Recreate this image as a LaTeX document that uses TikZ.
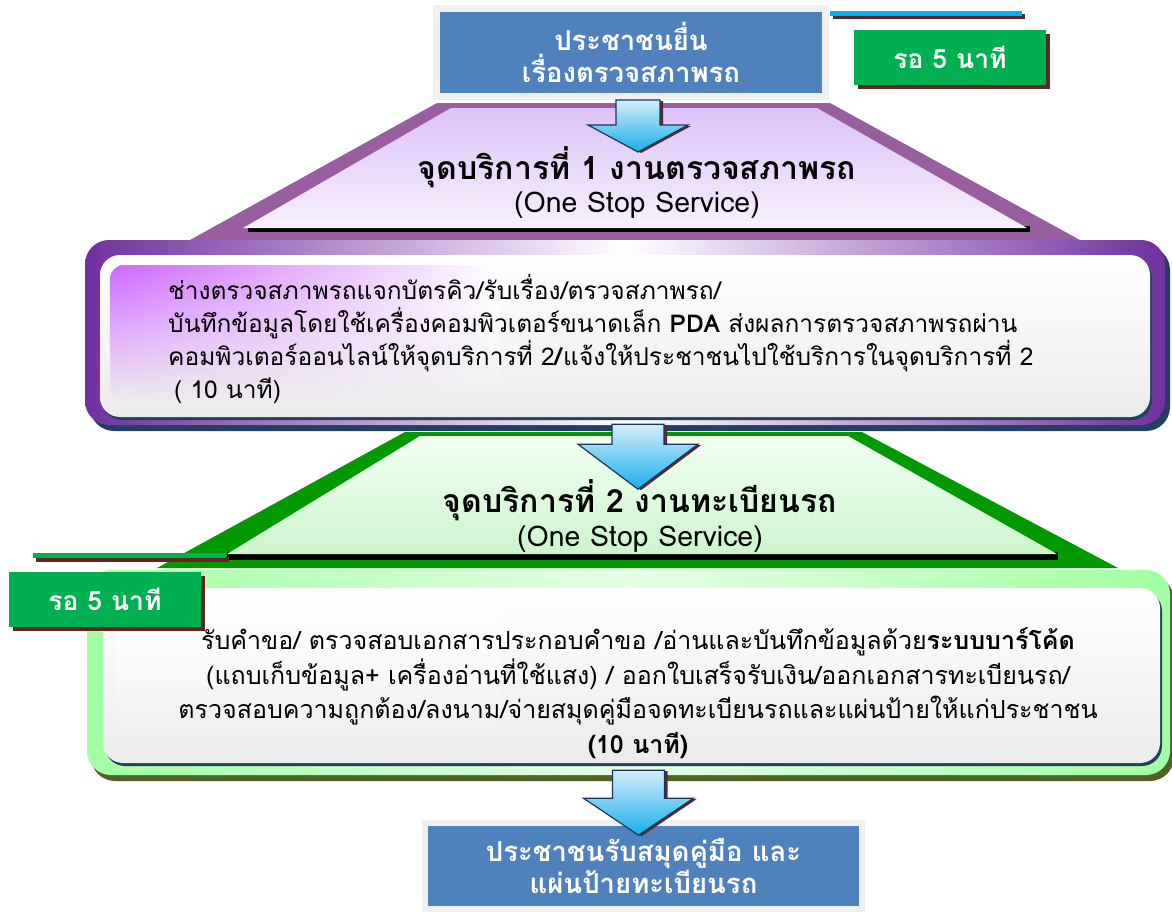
\documentclass[tikz,border=0pt]{standalone}
\usepackage{fontspec}
\setmainfont[Script=Thai]{Loma}
\usetikzlibrary{positioning, calc, fadings, shadows}

\definecolor{boxblue}{HTML}{4F81BD}
\definecolor{framegray}{HTML}{F0F0F0}
\definecolor{navyshade}{HTML}{243F60}
\definecolor{waitgreen}{HTML}{00B050}
\definecolor{rustshade}{HTML}{632423}
\definecolor{cyanline}{HTML}{00B0F0}
\definecolor{mauve}{HTML}{985E9F}
\definecolor{lilac}{HTML}{DCC2F9}
\definecolor{lilacpale}{HTML}{F7F1FC}
\definecolor{deeppurple}{HTML}{7030A0}
\definecolor{orchid}{HTML}{CC66FF}
\definecolor{grassgreen}{HTML}{009900}
\definecolor{mintpale}{HTML}{F2FEF2}
\definecolor{mint}{HTML}{CDF5CD}
\definecolor{palelime}{HTML}{E6FFE6}
\definecolor{lime}{HTML}{A2FFA2}
\definecolor{olive}{HTML}{4F6228}
\definecolor{skyhigh}{HTML}{D2EDFB}
\definecolor{skylow}{HTML}{1AAEEA}
\definecolor{arrowline}{HTML}{17375E}
\definecolor{panelgray}{HTML}{EBEBEB}

\tikzfading[name=fadedown, top color=transparent!0, bottom color=transparent!100]

\begin{document}
\begin{tikzpicture}[x=1pt, y=-1pt,
  every node/.style={font=\fontsize{22}{32}\selectfont, inner sep=0pt},
  bluebox/.style={fill=boxblue, draw=framegray, line width=7pt, text=white, align=center,
    font=\bfseries\fontsize{27.5}{32}\selectfont,
    drop shadow={shadow xshift=2pt, shadow yshift=-3pt, fill=navyshade, opacity=1}},
  waitbox/.style={fill=waitgreen, text=white, minimum width=192pt, minimum height=55pt,
    font=\bfseries\fontsize{26.5}{30}\selectfont,
    drop shadow={shadow xshift=4pt, shadow yshift=-4pt, fill=rustshade, opacity=1}},
  heading/.style={font=\bfseries\fontsize{32}{36}\selectfont},
  subheading/.style={font=\fontsize{28.5}{32}\selectfont},
  purpleframe/.style={rounded corners=24pt, left color=deeppurple, right color=deeppurple,
    middle color=white,
    drop shadow={shadow xshift=5pt, shadow yshift=-6pt, fill=navyshade, opacity=1}},
  greenframe/.style={rounded corners=24pt, left color=lime, right color=lime,
    middle color=palelime,
    drop shadow={shadow xshift=4pt, shadow yshift=-6pt, fill=olive, opacity=1}},
  panel/.style={rounded corners=20pt, top color=white, bottom color=panelgray,
    drop shadow={shadow xshift=2pt, shadow yshift=-3pt, fill=navyshade, opacity=1}},
  pics/blockarrow/.style n args={4}{code={
    % #1 half shaft, #2 half head, #3 shaft length, #4 full length
    \fill[rustshade, shift={(3,1)}] (-#1,0) -- (#1,0) -- (#1,#3) -- (#2,#3) -- (0,#4)
      -- (-#2,#3) -- (-#1,#3) -- cycle;
    \draw[arrowline, line width=1.2pt, top color=skyhigh, bottom color=skylow]
      (-#1,0) -- (#1,0) -- (#1,#3) -- (#2,#3) -- (0,#4) -- (-#2,#3) -- (-#1,#3) -- cycle;
  }}
]
\useasboundingbox[fill=white] (0,0) rectangle (1172,916);

% service point 1 (purple)
\fill[mauve] (437,103) -- (830,103) -- (1080,240) -- (190,240) -- cycle;
\fill[black] (248,226) rectangle (1030,232);
\path[top color=lilac, bottom color=lilacpale] (451,108) -- (817,108) -- (1027,228) -- (243,228) -- cycle;

% service point 2 (green)
\fill[grassgreen] (405,432) -- (862,432) -- (1118,568) -- (157,568) -- cycle;
\fill[black] (227,552) rectangle (1058,560);
\path[top color=mintpale, bottom color=mint] (420,436) -- (848,436) -- (1057,554) -- (227,554) -- cycle;

% box of step 1
\node[purpleframe, minimum width=1080pt, minimum height=185pt] (stage1) at (625,332.5) {};
\node[panel, minimum width=1050pt, minimum height=162pt] (panel1) at (625,336) {};
\path[rounded corners=14pt, left color=orchid, right color=white, path fading=fadedown]
  (110,265) rectangle (500,402);
\node[font=\fontsize{24.5}{33}\selectfont, align=left, anchor=west] (step1) at (168,339)
  {ช่างตรวจสภาพรถแจกบัตรคิว/รับเรื่อง/ตรวจสภาพรถ/\\
   บันทึกข้อมูลโดยใช้เครื่องคอมพิวเตอร์ขนาดเล็ก \textbf{PDA} ส่งผลการตรวจสภาพรถผ่าน\\
   คอมพิวเตอร์ออนไลน์ให้จุดบริการที่ 2\textbf{/}แจ้งให้ประชาชนไปใช้บริการในจุดบริการที่ 2\\
   \hspace*{6pt}( 10 นาที)};

\node[heading] (point1) at (637,167) {จุดบริการที่ 1 งานตรวจสภาพรถ};
\node[subheading] (oss1) at (637,205) {(One Stop Service)};
\node[heading] (point2) at (640,500) {จุดบริการที่ 2 งานทะเบียนรถ};
\node[subheading] (oss2) at (640,539) {(One Stop Service)};

% box of step 2
\node[greenframe, minimum width=1083pt, minimum height=205pt] (stage2) at (628.5,672.5) {};
\node[panel, minimum width=1057pt, minimum height=175pt] (panel2) at (631.5,675.5) {};
\path[rounded corners=14pt, fill=white, opacity=0.7, path fading=fadedown]
  (115,600) rectangle (500,740);
\node[font=\fontsize{25}{34.5}\selectfont, align=center] (step2) at (638,693)
  {รับคำขอ/ ตรวจสอบเอกสารประกอบคำขอ /อ่านและบันทึกข้อมูลด้วย\textbf{ระบบบาร์โค้ด}\\
   (แถบเก็บข้อมูล+ เครื่องอ่านที่ใช้แสง) / ออกใบเสร็จรับเงิน/ออกเอกสารทะเบียนรถ/\\
   ตรวจสอบความถูกต้อง/ลงนาม/จ่ายสมุดคู่มือจดทะเบียนรถและแผ่นป้ายให้แก่ประชาชน\\
   \textbf{(10 นาที)}};

% waiting times
\fill[rustshade] (36,557) rectangle (229,562);
\fill[waitgreen] (33,553) rectangle (226,558);
\node[waitbox] (wait2) at (105,599.5) {รอ 5 นาที};
\fill[rustshade] (833,14) rectangle (1025,19);
\fill[cyanline] (830,11) rectangle (1022,16);
\node[waitbox] (wait1) at (950,57.5) {รอ 5 นาที};

% start and end
\node[bluebox, minimum width=389pt, minimum height=88pt] (submit) at (631,52.5)
  {ประชาชนยื่น\\เรื่องตรวจสภาพรถ};
\node[bluebox, line width=6pt, minimum width=437pt, minimum height=86pt] (receive) at (643.5,866)
  {ประชาชนรับสมุดคู่มือ และ\\แผ่นป้ายทะเบียนรถ};

% arrows
\pic at ([xshift=7pt]submit.south) {blockarrow={22}{50}{25}{52}};
\pic at ([xshift=13pt, yshift=1pt]stage1.south) {blockarrow={26}{60}{20}{65}};
\pic at ([xshift=10pt, yshift=5pt]stage2.south) {blockarrow={26}{55}{28}{65}};
\end{tikzpicture}
\end{document}
